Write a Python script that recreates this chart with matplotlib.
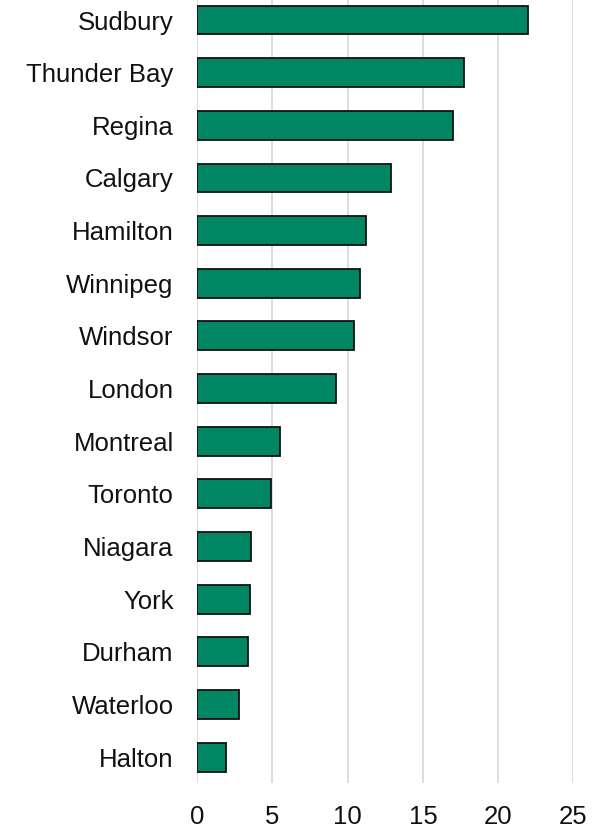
import matplotlib.pyplot as plt

# cities, bottom to top as drawn
cities = ['Halton', 'Waterloo', 'Durham', 'York', 'Niagara', 'Toronto', 'Montreal',
          'London', 'Windsor', 'Winnipeg', 'Hamilton', 'Calgary', 'Regina',
          'Thunder Bay', 'Sudbury']
values = [1.9, 2.8, 3.4, 3.5, 3.6, 4.9, 5.5, 9.2, 10.4, 10.8, 11.2, 12.9, 17.0, 17.7, 22.0]
xticks = [0, 5, 10, 15, 20, 25]

plt.rcParams['font.family'] = ['Liberation Sans', 'DejaVu Sans']

fig = plt.figure(figsize=(6.07, 8.33), dpi=100)
ax = fig.add_axes([0.325, 0.06, 0.6195, 0.94])

ax.barh(range(len(cities)), values, height=0.55, color='#008663',
        edgecolor='#111111', linewidth=1.3, zorder=3)

ax.set_xlim(0, 25)
ax.set_ylim(-0.49, len(cities) - 1 + 0.38)
ax.set_xticks(xticks)
ax.set_yticks(range(len(cities)))
ax.set_yticklabels(cities)
ax.tick_params(axis='both', length=0, labelsize=18.5, colors='#111111')
ax.tick_params(axis='x', pad=16)
ax.tick_params(axis='y', pad=17)
ax.grid(axis='x', color='#dadada', linewidth=1.3, zorder=0)
for s in ax.spines.values():
    s.set_visible(False)

fig.savefig('out.png', dpi=100)
